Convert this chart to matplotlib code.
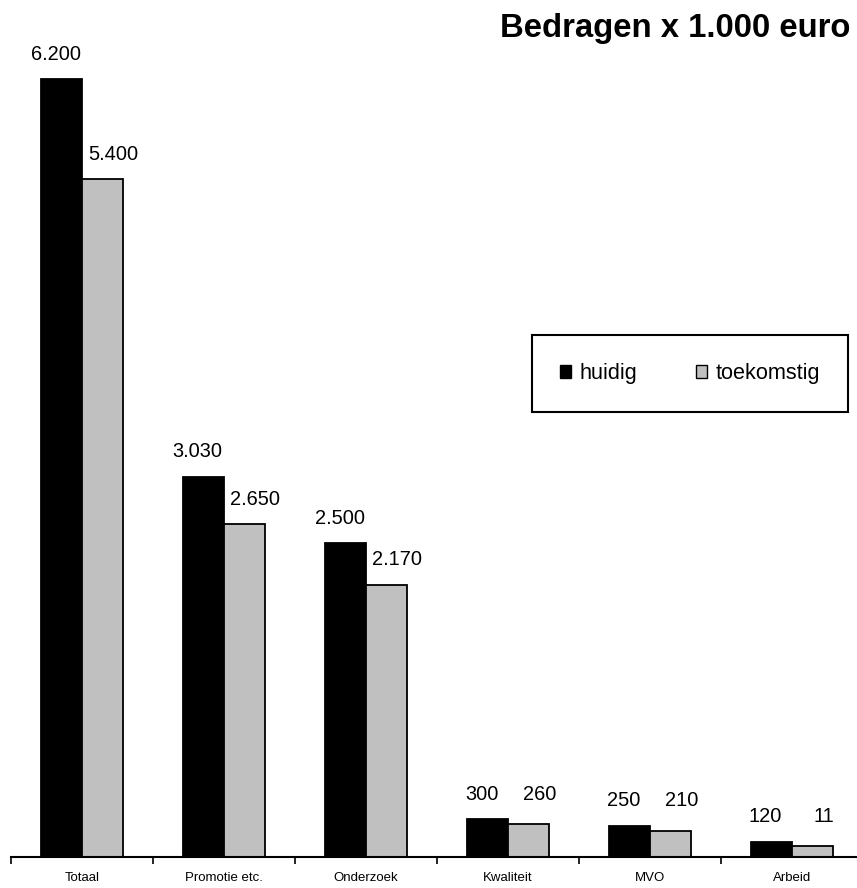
import numpy as np
import matplotlib.pyplot as plt
from matplotlib.patches import Patch

plt.rcParams['font.family'] = ['Liberation Sans', 'DejaVu Sans']

# data
categories = ['Totaal', 'Promotie etc.', 'Onderzoek', 'Kwaliteit', 'MVO', 'Arbeid']
huidig = [6200, 3030, 2500, 300, 250, 120]
toekomstig = [5400, 2650, 2170, 260, 210, 90]
# labels as printed in the chart (last one is cut off in the original)
huidig_labels = ['6.200', '3.030', '2.500', '300', '250', '120']
toekomstig_labels = ['5.400', '2.650', '2.170', '260', '210', '11']
series_names = ['huidig', 'toekomstig']
title = 'Bedragen x 1.000 euro'

W, H, DPI = 857, 888, 100
fig = plt.figure(figsize=(W / DPI, H / DPI), dpi=DPI)

# axes in pixels: left 11, category width 142, axis line at y=857
px_per_unit = 0.12548
left, bottom = 11, H - 857
cat_w = 142
ax = fig.add_axes([left / W, bottom / H, len(categories) * cat_w / W, 857 / H])
ax.set_xlim(-0.5, len(categories) - 0.5)
ax.set_ylim(0, 857 / px_per_unit)

x = np.arange(len(categories))
bw = 0.287
ax.bar(x - bw / 2, huidig, bw, color='black', edgecolor='black', linewidth=1.3, label=series_names[0])
ax.bar(x + bw / 2, toekomstig, bw, color='#c0c0c0', edgecolor='black', linewidth=1.3, label=series_names[1])

# value labels
for i in range(len(categories)):
    grp = max(huidig[i], toekomstig[i])
    for v, lab, xo, dx in [(huidig[i], huidig_labels[i], x[i] - bw / 2, -6),
                           (toekomstig[i], toekomstig_labels[i], x[i] + bw / 2, 11)]:
        base = v if grp > 1000 else grp
        ax.annotate(lab, (xo, base), xytext=(dx * 0.72, 25 * 0.72),
                    textcoords='offset points', ha='center', va='center',
                    fontsize=14.4, color='black', annotation_clip=False)

# spines / ticks
for s in ['top', 'right', 'left']:
    ax.spines[s].set_visible(False)
ax.spines['bottom'].set_linewidth(1.5)
ax.set_yticks([])
ax.set_xticks(x)
ax.set_xticklabels(categories, fontsize=9.5)
ax.tick_params(axis='x', which='major', length=0, pad=11)
ax.set_xticks(np.arange(len(categories)) - 0.5, minor=True)
ax.tick_params(axis='x', which='minor', length=5, width=1.2, direction='out')

# legend
handles = [Patch(facecolor='black', edgecolor='black', label=series_names[0]),
           Patch(facecolor='#c0c0c0', edgecolor='black', label=series_names[1])]
leg = fig.legend(handles=handles, loc='upper left', bbox_to_anchor=(532 / W, 1 - 335 / H),
                 ncol=2, fontsize=15.6, frameon=True, fancybox=False, edgecolor='black',
                 framealpha=1, borderpad=1.3, handlelength=0.5, handleheight=0.5,
                 handletextpad=0.4, columnspacing=2.7, borderaxespad=0)
leg.get_frame().set_linewidth(1.5)

fig.text(850 / W, 1 - 28 / H, title, ha='right', va='center', fontsize=23.7, fontweight='bold')

fig.savefig('out.png', dpi=DPI)
